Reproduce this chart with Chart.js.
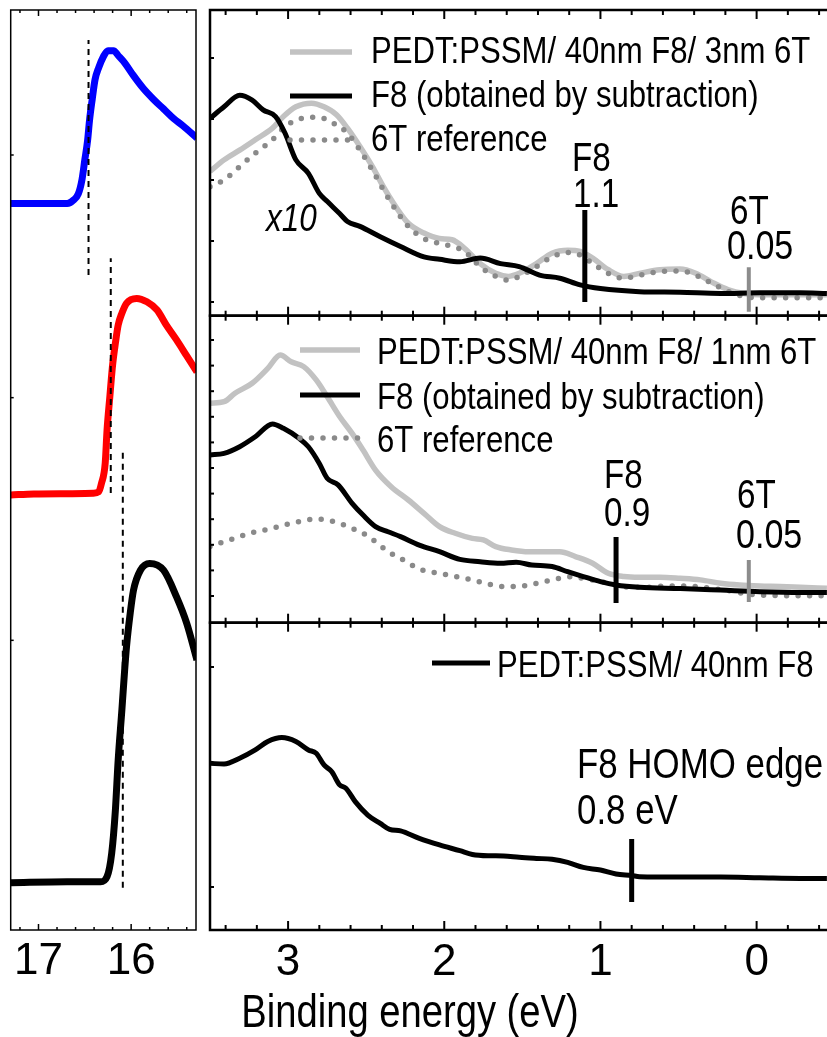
<!DOCTYPE html>
<html><head><meta charset="utf-8">
<script src="https://cdn.jsdelivr.net/npm/chart.js@4.4.1/dist/chart.umd.min.js"></script>
<style>
html,body{margin:0;padding:0;background:#fff;overflow:hidden;width:827px;height:1037px;}
canvas{position:absolute;left:0;top:0;}
</style></head><body>
<canvas id="cLeft" width="840" height="1037"></canvas>
<canvas id="cTop" width="840" height="1037"></canvas>
<canvas id="cMid" width="840" height="1037"></canvas>
<canvas id="cBot" width="840" height="1037"></canvas>
<script>
// ---------- tick values ----------
const rightXMajor = [3, 2, 1, 0];
const rightXMinor = [3.4, 3.2, 2.8, 2.6, 2.4, 2.2, 1.8, 1.6, 1.4, 1.2, 0.8, 0.6, 0.4, 0.2, -0.2, -0.4];
const leftXMajor = [17, 16];
const leftXMinor = [17.2, 16.8, 16.6, 16.4, 16.2, 15.8, 15.6, 15.4];
const leftYTicks = [0, 1, 2, 3];
const topYTicks = [0, 1, 2, 3, 4];
const midYTicks = [0, 1, 2, 3, 4, 5, 6, 7, 8, 9, 10];
const botYTicks = [0, 1];

// ---------- left panel: secondary-electron cutoff ----------
const cutBlueE = [17.30,17.05,16.87,16.69,16.62,16.57,16.53,16.50,16.47,16.45,16.42,16.39,16.35,16.30,16.25,16.19,16.14,16.07,15.98,15.87,15.76,15.65,15.54,15.44,15.29];
const cutBlueI = [2.80,2.80,2.80,2.80,2.815,2.84,2.90,2.98,3.06,3.14,3.23,3.31,3.36,3.405,3.43,3.43,3.41,3.38,3.33,3.275,3.23,3.19,3.15,3.12,3.07];
const cutRedE = [17.30,17.05,16.69,16.41,16.35,16.32,16.28,16.26,16.23,16.20,16.17,16.14,16.10,16.05,15.94,15.83,15.72,15.62,15.51,15.40,15.29];
const cutRedI = [1.599,1.603,1.604,1.606,1.612,1.647,1.730,1.867,2.004,2.135,2.225,2.299,2.348,2.389,2.409,2.395,2.361,2.299,2.238,2.172,2.106];
const cutBlackE = [17.30,16.69,16.33,16.26,16.21,16.17,16.14,16.10,16.07,16.05,16.01,15.975,15.90,15.80,15.65,15.51,15.40,15.29];
const cutBlackI = [0.001,0.005,0.005,0.026,0.122,0.301,0.507,0.713,0.878,0.974,1.112,1.206,1.289,1.317,1.289,1.179,1.070,0.919];
const cutoffMarkE = [16.46, 16.22, 16.09];
const cutoffMarkLo = [2.505, 1.607, -0.02];
const cutoffMarkHi = [3.474, 2.575, 1.784];

// ---------- right top: 3nm 6T ----------
const topBlackE = [3.50,3.41,3.31,3.23,3.16,3.08,3.02,2.95,2.87,2.80,2.75,2.67,2.62,2.54,2.41,2.28,2.13,2.03,1.90,1.77,1.64,1.52,1.39,1.26,1.13,1.00,0.75,0.49,0.23,-0.02,-0.28,-0.45];
const topBlackI = [3.01,3.20,3.39,3.31,3.15,3.04,2.77,2.33,2.11,1.78,1.65,1.45,1.32,1.24,1.07,0.91,0.74,0.70,0.66,0.72,0.63,0.58,0.44,0.39,0.28,0.22,0.17,0.16,0.14,0.15,0.15,0.14];
const topGrayE = [3.50,3.41,3.31,3.21,3.10,3.03,2.95,2.85,2.77,2.69,2.62,2.54,2.46,2.39,2.31,2.23,2.13,2.03,1.95,1.87,1.77,1.67,1.59,1.52,1.41,1.31,1.21,1.13,1.05,0.95,0.85,0.75,0.62,0.49,0.39,0.29,0.18,0.08,-0.02,-0.28,-0.45];
const topGrayI = [2.14,2.33,2.49,2.66,2.85,3.04,3.20,3.26,3.20,3.07,2.85,2.55,2.22,1.89,1.56,1.29,1.13,1.04,1.02,0.88,0.63,0.47,0.42,0.47,0.63,0.80,0.85,0.83,0.72,0.53,0.42,0.47,0.53,0.54,0.47,0.33,0.20,0.14,0.12,0.12,0.12];
const topRefE = topGrayE;
const topRefI = [1.89,2.00,2.22,2.44,2.66,2.85,2.98,3.03,3.01,2.90,2.77,2.49,2.16,1.84,1.51,1.24,1.04,0.96,0.91,0.83,0.58,0.42,0.36,0.42,0.58,0.74,0.81,0.77,0.63,0.47,0.39,0.44,0.50,0.51,0.44,0.31,0.17,0.09,0.07,0.07,0.07];

// ---------- right middle: 1nm 6T ----------
const midGrayE = [3.50,3.41,3.34,3.23,3.13,3.05,2.98,2.90,2.82,2.75,2.67,2.59,2.52,2.44,2.34,2.23,2.13,2.03,1.93,1.82,1.75,1.67,1.57,1.46,1.36,1.26,1.16,1.05,0.95,0.85,0.75,0.62,0.49,0.36,0.23,0.11,-0.02,-0.15,-0.28,-0.45];
const midGrayI = [7.53,7.59,7.92,8.31,8.89,9.41,9.15,8.96,8.44,7.79,7.01,6.35,5.70,4.92,4.27,3.75,3.23,2.71,2.45,2.25,2.19,1.93,1.80,1.73,1.73,1.73,1.54,1.28,0.89,0.76,0.73,0.73,0.69,0.63,0.50,0.43,0.39,0.37,0.34,0.30];
const midBlackE = [3.50,3.41,3.31,3.21,3.10,3.03,2.93,2.87,2.80,2.75,2.68,2.59,2.52,2.44,2.36,2.28,2.16,2.03,1.90,1.77,1.64,1.54,1.44,1.31,1.21,1.11,1.00,0.90,0.75,0.49,0.23,-0.02,-0.28,-0.45];
const midBlackI = [5.51,5.57,5.83,6.22,6.72,6.55,6.16,5.83,5.18,4.60,4.34,3.62,3.16,2.71,2.51,2.32,1.99,1.73,1.43,1.34,1.28,1.32,1.21,1.15,0.95,0.76,0.56,0.43,0.34,0.29,0.23,0.17,0.14,0.14];
const midRefE = [3.50,3.41,3.31,3.21,3.10,3.03,2.93,2.82,2.75,2.67,2.59,2.52,2.44,2.36,2.28,2.23,2.13,2.03,1.93,1.82,1.72,1.62,1.54,1.46,1.36,1.26,1.18,1.11,1.00,0.90,0.80,0.70,0.59,0.49,0.39,0.29,0.18,0.08,-0.02,-0.28,-0.45];
const midRefI = [1.93,2.12,2.32,2.51,2.64,2.77,2.90,3.01,2.97,2.84,2.64,2.45,2.12,1.73,1.47,1.28,0.99,0.89,0.76,0.63,0.47,0.37,0.37,0.43,0.56,0.69,0.76,0.69,0.56,0.43,0.34,0.34,0.39,0.39,0.37,0.30,0.21,0.10,0.04,0.01,0.01];

// ---------- right bottom: 40nm F8 ----------
const botBlackE = [3.50,3.41,3.31,3.21,3.13,3.04,2.95,2.87,2.82,2.77,2.72,2.67,2.63,2.57,2.49,2.41,2.35,2.28,2.16,2.03,1.90,1.82,1.72,1.62,1.52,1.41,1.31,1.21,1.11,1.00,0.90,0.80,0.75,0.49,0.23,-0.02,-0.28,-0.45];
const botBlackI = [0.562,0.559,0.585,0.623,0.661,0.679,0.661,0.623,0.608,0.555,0.524,0.464,0.449,0.388,0.327,0.289,0.262,0.255,0.221,0.191,0.165,0.148,0.142,0.141,0.135,0.130,0.126,0.112,0.089,0.077,0.059,0.052,0.047,0.045,0.045,0.042,0.039,0.039];

// ---------- onset markers ----------
const topMarkE = [1.1, 0.05];  const topMarkLo = [0.0, -0.16]; const topMarkHi = [1.51, 0.57];
const midMarkE = [0.9, 0.05];  const midMarkLo = [-0.27, -0.23]; const midMarkHi = [2.30, 1.41];
const botMarkE = [0.8];        const botMarkLo = [-0.068];      const botMarkHi = [0.218];

// ---------- text ----------
const legTop = ['PEDT:PSSM/ 40nm F8/ 3nm 6T', 'F8 (obtained by subtraction)', '6T reference'];
const legMid = ['PEDT:PSSM/ 40nm F8/ 1nm 6T', 'F8 (obtained by subtraction)', '6T reference'];
const legBot = ['PEDT:PSSM/ 40nm F8'];
const xTitle = 'Binding energy (eV)';

const FONT = "'Liberation Sans', Arial, Helvetica, sans-serif";
const NARROW = 0.83;   // horizontal condensing of annotation text (Arial Narrow look)
const GRAY = '#c2c2c2', DOTC = '#8a8a8a', MARKG = '#8c8c8c';

function pts(xs, ys) { return xs.map((x, i) => ({x: x, y: ys[i]})); }
function seg(x, lo, hi) { return [{x: x, y: lo}, {x: x, y: hi}]; }

function curve(label, xs, ys, color, width, order, extra) {
  return Object.assign({label, data: pts(xs, ys), borderColor: color, borderWidth: width,
    pointRadius: 0, fill: false, cubicInterpolationMode: 'monotone', order: order,
    borderJoinStyle: 'round', borderCapStyle: 'butt'}, extra || {});
}
function marker(x, lo, hi, color, width, dash) {
  return {label: '', data: seg(x, lo, hi), borderColor: color, borderWidth: width, pointRadius: 0,
    fill: false, order: 0, borderDash: dash || [], borderCapStyle: 'butt'};
}
const dotted = {borderDash: [0, 11.5], borderCapStyle: 'round'};

function narrowText(ctx, text, x, capCenterY, size, align, italic) {
  ctx.save();
  ctx.fillStyle = '#000';
  ctx.font = (italic ? 'italic ' : '') + size + 'px ' + FONT;
  ctx.textAlign = align || 'left';
  ctx.textBaseline = 'alphabetic';
  ctx.translate(x, capCenterY + 0.358 * size);
  ctx.scale(NARROW, 1);
  ctx.fillText(text, 0, 0);
  ctx.restore();
}

// ---------- plugin: frame, inward ticks, legend, text ----------
const decor = {
  id: 'decor',
  afterDatasetsDraw(chart, args, o) {
    const ctx = chart.ctx, a = chart.chartArea, xs = chart.scales.x, ys = chart.scales.y;
    ctx.save();
    ctx.strokeStyle = '#000';
    ctx.lineCap = 'butt';
    ctx.lineWidth = o.tickWidth;
    const vx = (list, len) => list.forEach(v => {
      const p = xs.getPixelForValue(v);
      ctx.beginPath(); ctx.moveTo(p, a.top); ctx.lineTo(p, a.top + len); ctx.stroke();
      ctx.beginPath(); ctx.moveTo(p, a.bottom); ctx.lineTo(p, a.bottom - len); ctx.stroke();
    });
    vx(o.xMajor, o.majorLen); vx(o.xMinor, o.minorLen);
    o.yTicks.forEach(v => {
      const p = ys.getPixelForValue(v);
      ctx.beginPath(); ctx.moveTo(a.left, p); ctx.lineTo(a.left + o.yLen, p); ctx.stroke();
    });
    ctx.lineWidth = o.frameWidth;
    ctx.strokeRect(a.left, a.top, a.right - a.left, a.bottom - a.top);
    if (o.legend) {
      const L = o.legend;
      L.rows.forEach(r => {
        const ds = chart.data.datasets[r.ds];
        ctx.save();
        ctx.strokeStyle = ds.borderColor; ctx.lineWidth = ds.borderWidth;
        ctx.setLineDash(ds.borderDash || []);
        ctx.lineCap = ds.borderCapStyle || 'butt';
        ctx.beginPath(); ctx.moveTo(L.x0, r.y); ctx.lineTo(L.x1, r.y); ctx.stroke();
        ctx.restore();
        narrowText(ctx, ds.label, L.tx, r.ty, L.size, 'left', false);
      });
    }
    (o.texts || []).forEach(t => narrowText(ctx, t.t, t.x, t.y, t.size, t.align, t.italic));
    ctx.restore();
  }
};

function baseOptions(pad, xr, yr, decorOpts, xAxisShown, xTickVals) {
  const opt = {
    responsive: false, animation: false, events: [],
    layout: {padding: pad},
    plugins: {legend: {display: false}, tooltip: {enabled: false}, decor: decorOpts},
    scales: {
      x: {type: 'linear', min: xr[0], max: xr[1], reverse: true, display: false},
      y: {type: 'linear', min: yr[0], max: yr[1], display: false}
    }
  };
  if (xAxisShown) {
    Object.assign(opt.scales.x, {
      display: true,
      grid: {display: false, drawTicks: false},
      border: {display: false},
      afterBuildTicks: s => { s.ticks = xTickVals.map(v => ({value: v})); },
      afterFit: s => { s.height = 80; },
      ticks: {font: {family: FONT, size: 44}, color: '#000', padding: xAxisShown.pad,
        maxRotation: 0, autoSkip: false, callback: v => String(v)}
    });
  }
  return opt;
}

// ---------- left chart ----------
new Chart(document.getElementById('cLeft'), {
  type: 'line',
  data: {datasets: [
    curve('cutoff 3nm 6T', cutBlueE, cutBlueI, '#0000ff', 7, 2),
    curve('cutoff 1nm 6T', cutRedE, cutRedI, '#ff0000', 7, 2),
    curve('cutoff 40nm F8', cutBlackE, cutBlackI, '#000000', 7, 2),
    ...cutoffMarkE.map((e, i) => marker(e, cutoffMarkLo[i], cutoffMarkHi[i], '#000', 2, [6, 5]))
  ]},
  options: baseOptions({left: 10.7, top: 10, right: 644, bottom: 27}, [15.3, 17.3], [-0.1937, 3.5975],
    {xMajor: leftXMajor, xMinor: leftXMinor, yTicks: leftYTicks, majorLen: 6, minorLen: 3, yLen: 3,
     tickWidth: 1.5, frameWidth: 1.5}, {pad: 5}, leftXMajor),
  plugins: [decor]
});

// ---------- right top ----------
new Chart(document.getElementById('cTop'), {
  type: 'line',
  data: {datasets: [
    curve(legTop[0], topGrayE, topGrayI, GRAY, 5.5, 3),
    curve(legTop[1], topBlackE, topBlackI, '#000000', 5, 1),
    curve(legTop[2], topRefE, topRefI, DOTC, 5.5, 2, dotted),
    marker(topMarkE[0], topMarkLo[0], topMarkHi[0], '#000', 5),
    marker(topMarkE[1], topMarkLo[1], topMarkHi[1], MARKG, 4)
  ]},
  options: baseOptions({left: 210, top: 10, right: 5.3, bottom: 721.3}, [-0.5, 3.5], [-0.2246, 4.787],
    {xMajor: rightXMajor, xMinor: rightXMinor, yTicks: topYTicks, majorLen: 9, minorLen: 5, yLen: 4,
     tickWidth: 2, frameWidth: 2.5,
     legend: {x0: 290, x1: 352, tx: 371, size: 37.5, rows: [{ds: 0, y: 52, ty: 50}, {ds: 1, y: 96, ty: 94}, {ds: 2, y: 140, ty: 138}]},
     texts: [{t: 'F8', x: 572, y: 157, size: 40}, {t: '1.1', x: 573, y: 193, size: 40},
             {t: '6T', x: 730, y: 210, size: 40}, {t: '0.05', x: 727, y: 244, size: 41},
             {t: 'x10', x: 266, y: 217, size: 38, italic: true}]}),
  plugins: [decor]
});

// ---------- right middle ----------
new Chart(document.getElementById('cMid'), {
  type: 'line',
  data: {datasets: [
    curve(legMid[0], midGrayE, midGrayI, GRAY, 5.5, 3),
    curve(legMid[1], midBlackE, midBlackI, '#000000', 5, 1),
    curve(legMid[2], midRefE, midRefI, DOTC, 5.5, 2, dotted),
    marker(midMarkE[0], midMarkLo[0], midMarkHi[0], '#000', 5),
    marker(midMarkE[1], midMarkLo[1], midMarkHi[1], MARKG, 4)
  ]},
  options: baseOptions({left: 210, top: 315.7, right: 5.3, bottom: 414.3}, [-0.5, 3.5], [-1.043, 10.949],
    {xMajor: rightXMajor, xMinor: rightXMinor, yTicks: midYTicks, majorLen: 9, minorLen: 5, yLen: 4,
     tickWidth: 2, frameWidth: 2.5,
     legend: {x0: 300, x1: 360, tx: 377, size: 37.5, rows: [{ds: 0, y: 350, ty: 351}, {ds: 1, y: 395, ty: 396}, {ds: 2, y: 438, ty: 439}]},
     texts: [{t: 'F8', x: 604, y: 474, size: 40}, {t: '0.9', x: 604, y: 512, size: 40},
             {t: '6T', x: 737, y: 494, size: 40}, {t: '0.05', x: 736, y: 533, size: 41}]}),
  plugins: [decor]
});

// ---------- right bottom ----------
new Chart(document.getElementById('cBot'), {
  type: 'line',
  data: {datasets: [
    curve(legBot[0], botBlackE, botBlackI, '#000000', 5, 1),
    marker(botMarkE[0], botMarkLo[0], botMarkHi[0], '#000', 5)
  ]},
  options: baseOptions({left: 210, top: 622.7, right: 5.3, bottom: 27}, [-0.5, 3.5], [-0.1955, 1.2014],
    {xMajor: rightXMajor, xMinor: rightXMinor, yTicks: botYTicks, majorLen: 9, minorLen: 5, yLen: 4,
     tickWidth: 2, frameWidth: 2.5,
     legend: {x0: 432, x1: 490, tx: 497, size: 37.5, rows: [{ds: 0, y: 663, ty: 664}]},
     texts: [{t: 'F8 HOMO edge', x: 577, y: 763, size: 42}, {t: '0.8 eV', x: 577, y: 809, size: 42},
             {t: xTitle, x: 410, y: 1011, size: 46, align: 'center'}]}, {pad: 6}, rightXMajor),
  plugins: [decor]
});
</script>
</body></html>
